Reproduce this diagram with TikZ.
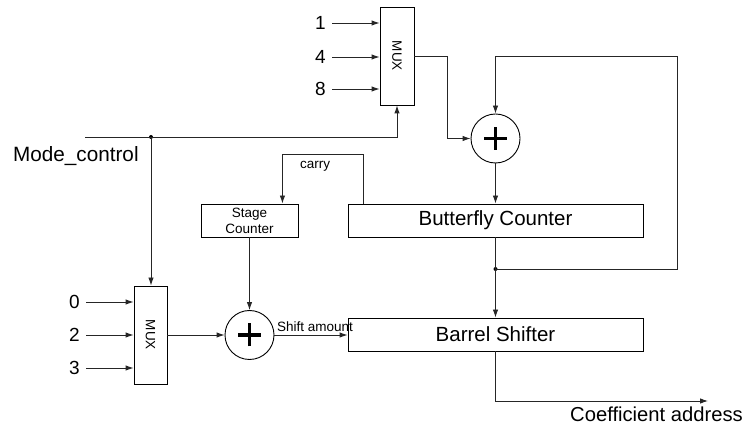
\documentclass[tikz,border=0pt]{standalone}
\usepackage{fontspec}
\setmainfont{Liberation Sans}
\usetikzlibrary{arrows.meta}
\begin{document}
\begin{tikzpicture}[x=1pt,y=-1pt,
  wire/.style={line width=0.9pt,draw=black!85},
  arr/.style={wire,-{Latex[length=8pt,width=5.5pt]}},
  muxbox/.style={draw,line width=0.9pt,minimum width=34pt,minimum height=98pt,inner sep=0pt},
  blockbox/.style={draw,line width=0.9pt,minimum width=295pt,minimum height=33pt,inner sep=0pt,font=\fontsize{20.5}{24}\selectfont},
  smallbox/.style={draw,line width=0.9pt,minimum width=97pt,minimum height=33pt,inner sep=0pt,align=center,font=\fontsize{13.5}{16}\selectfont},
  adder/.style={draw,circle,line width=0.9pt,minimum size=49pt,inner sep=0pt},
  biglbl/.style={inner sep=0pt,font=\fontsize{20.7}{24}\selectfont},
  numlbl/.style={inner sep=0pt,anchor=east,font=\fontsize{19}{22}\selectfont},
  smalllbl/.style={inner sep=0pt,font=\fontsize{13.5}{16}\selectfont},
  muxlbl/.style={inner sep=0pt,rotate=-90,font=\fontsize{13.5}{15}\selectfont},
  plus/.style={line width=3.8pt},
  jdot/.style={circle,fill=black,inner sep=0pt,minimum size=4pt}
]
\useasboundingbox (0,0) rectangle (750,427);

% blocks
\node[muxbox] (muxT) at (397,56) {};
\node[muxlbl] (muxTl) at (muxT.center) {MUX};
\node[muxbox,minimum width=33pt] (muxB) at (150.5,335) {};
\node[muxlbl] (muxBl) at (muxB.center) {MUX};
\node[adder] (addT) at (495.5,138.5) {};
\node[adder] (addB) at (249.5,335) {};
\draw[plus] ([xshift=-11.5pt]addT.center) -- ([xshift=11.5pt]addT.center)
            ([yshift=-11.5pt]addT.center) -- ([yshift=11.5pt]addT.center);
\draw[plus] ([xshift=-11.5pt]addB.center) -- ([xshift=11.5pt]addB.center)
            ([yshift=-11.5pt]addB.center) -- ([yshift=11.5pt]addB.center);
\node[blockbox] (bfly) at (495.5,220.5) {Butterfly Counter};
\node[smallbox] (stage) at (249.5,220.5) {Stage\\Counter};
\node[blockbox] (barrel) at (495.5,334.5) {Barrel Shifter};

% top mux inputs
\node[numlbl] (t1) at (326,23) {1};
\node[numlbl] (t4) at (326,57) {4};
\node[numlbl] (t8) at (326,89) {8};
\draw[arr] ([xshift=6pt]t1.east) -- (t1.east -| muxT.west);
\draw[arr] ([xshift=6pt]t4.east) -- (t4.east -| muxT.west);
\draw[arr] ([xshift=6pt]t8.east) -- (t8.east -| muxT.west);

% bottom mux inputs
\node[numlbl] (b0) at (80,302) {0};
\node[numlbl] (b2) at (80,335) {2};
\node[numlbl] (b3) at (80,368) {3};
\draw[arr] ([xshift=6pt]b0.east) -- (b0.east -| muxB.west);
\draw[arr] ([xshift=6pt]b2.east) -- (b2.east -| muxB.west);
\draw[arr] ([xshift=6pt]b3.east) -- (b3.east -| muxB.west);

% mode control
\coordinate (mcStart) at (85,137);
\node[jdot] (mcDot) at (151,137) {};
\node[biglbl,anchor=base west] (mclbl) at (13,162) {Mode\_control};
\draw[wire] (mcStart) -- (mcDot.center);
\draw[arr] (mcDot.center) -| (muxT.south);
\draw[arr] (mcDot.center) -- (mcDot.center |- muxB.north);

% top mux -> adder
\draw[arr] (muxT.east) -- ++(33,0) |- (addT.west);
\draw[arr] (addT.south) -- (bfly.north);

% feedback
\node[jdot] (fbDot) at (495.5,269) {};
\coordinate (fbCorner) at (677,56);
\draw[wire] (bfly.south) -- (fbDot.center);
\draw[arr] (fbDot.center) -| (fbCorner) -| (addT.north);
\draw[arr] (fbDot.center) -- (barrel.north);

% carry
\draw[arr] ([xshift=16pt]bfly.north west) -- ++(0,-49) -| ([xshift=-16pt]stage.north east);
\node[smalllbl] (carry) at (315,166) {carry};

% stage counter -> adder
\draw[arr] (stage.south) -- (addB.north);
\draw[arr] (muxB.east) -- (addB.west);
\draw[arr] (addB.east) -- (addB.east -| barrel.west);
\node[smalllbl,anchor=base west] (shift) at (277,332) {Shift amount};

% output
\coordinate (outEnd) at (708,401);
\draw[arr] (barrel.south) |- (outEnd);
\node[inner sep=0pt,anchor=base west,font=\fontsize{20.2}{24}\selectfont] (coef) at (570,422) {Coefficient address};
\end{tikzpicture}
\end{document}
